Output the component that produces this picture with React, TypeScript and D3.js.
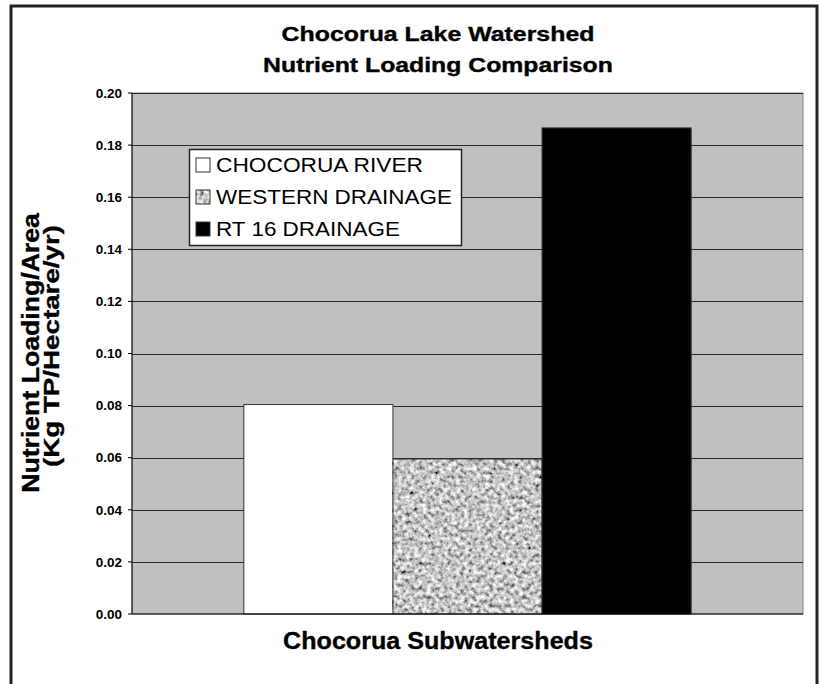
import React, { useLayoutEffect, useRef } from 'react';
import * as d3 from 'd3';

// chart values
const titleLines = ['Chocorua Lake Watershed', 'Nutrient Loading Comparison'];
const categories = ['Chocorua Subwatersheds'];
const seriesNames = ['CHOCORUA RIVER', 'WESTERN DRAINAGE', 'RT 16 DRAINAGE'];
const seriesValues = [0.0804, 0.0595, 0.1866];
const yTicks = [0, 0.02, 0.04, 0.06, 0.08, 0.1, 0.12, 0.14, 0.16, 0.18, 0.2];
const yLabelLines = ['Nutrient Loading/Area', '(Kg TP/Hectare/yr)'];

const W = 820;
const H = 684;
const plot = { left: 132, right: 803, top: 93, bottom: 614 };
const font = '"Liberation Sans", Arial, Helvetica, sans-serif';

// widths of the wide Excel text
const legendTextLen = [207, 236, 184];

// text that is stretched (glyphs too) to a target width, centred on x
const WideText = ({ x, y, rotate = 0, width, size, bold = true, children }) => {
  const ref = useRef(null);
  useLayoutEffect(() => {
    const el = ref.current;
    if (!el) return;
    const natural = el.getComputedTextLength();
    const sx = natural > 0 ? width / natural : 1;
    el.setAttribute('transform', `translate(${x},${y}) rotate(${rotate}) scale(${sx},1)`);
  }, [x, y, rotate, width, children]);
  return (
    <text
      ref={ref}
      transform={`translate(${x},${y}) rotate(${rotate})`}
      textAnchor="middle"
      fontSize={size}
      fontWeight={bold ? 'bold' : 'normal'}
      stroke="#000"
      strokeWidth={0.35}
    >
      {children}
    </text>
  );
};

const App = () => {
  const y = d3.scaleLinear().domain([0, 0.2]).range([plot.bottom, plot.top]);
  const x0 = d3
    .scaleBand()
    .domain(categories)
    .range([plot.left, plot.right])
    .paddingInner(0)
    .paddingOuter(0.25);
  const x1 = d3.scaleBand().domain(seriesNames).range([0, x0.bandwidth()]);

  const fills = ['#ffffff', '#a8a8a8', '#000000'];
  const fmt = d3.format('.2f');

  // granite-ish fill for the western drainage series
  const textured = (key, xx, yy, w, h) => (
    <g key={key}>
      <rect x={xx} y={yy} width={w} height={h} fill="#a8a8a8" filter="url(#granite)" />
      <rect x={xx} y={yy} width={w} height={h} fill="none" stroke="#333" strokeWidth={1} />
    </g>
  );

  return (
    <svg
      width={W}
      height={H}
      style={{ position: 'absolute', left: 0, top: 0, display: 'block' }}
      fontFamily={font}
    >
      <defs>
        <filter id="granite" x="0" y="0" width="100%" height="100%">
          <feTurbulence type="fractalNoise" baseFrequency="0.24" numOctaves="2" seed="7" result="n" />
          <feColorMatrix
            in="n"
            type="matrix"
            values="1.6 0 0 0 -0.24  1.6 0 0 0 -0.24  1.6 0 0 0 -0.24  0 0 0 0 1"
          />
        </filter>
      </defs>

      <rect x={0} y={0} width={W} height={H} fill="#fff" />
      {/* outer frame, runs off the bottom of the page */}
      <rect x={11} y={6} width={806} height={720} fill="#fff" stroke="#222" strokeWidth={3} />

      {/* title */}
      <WideText x={438} y={41} width={313} size={20}>
        {titleLines[0]}
      </WideText>
      <WideText x={438} y={72} width={350} size={20}>
        {titleLines[1]}
      </WideText>

      {/* plot area */}
      <rect
        x={plot.left}
        y={plot.top}
        width={plot.right - plot.left}
        height={plot.bottom - plot.top}
        fill="#c0c0c0"
        stroke="#808080"
        strokeWidth={1}
      />
      {yTicks
        .filter((t) => t > 0)
        .map((t) => (
          <line
            key={'g' + t}
            x1={plot.left}
            x2={plot.right}
            y1={Math.round(y(t)) + 0.5}
            y2={Math.round(y(t)) + 0.5}
            stroke="#2a2a2a"
            strokeWidth={1}
          />
        ))}

      {/* bars */}
      {categories.map((c) => (
        <g key={c} transform={`translate(${x0(c)},0)`}>
          {seriesNames.map((s, i) => {
            const bx = x1(s);
            const by = y(seriesValues[i]);
            const bw = x1.bandwidth();
            const bh = y(0) - by;
            if (i === 1) return textured(s, bx, by, bw, bh);
            return (
              <rect key={s} x={bx} y={by} width={bw} height={bh} fill={fills[i]} stroke="#333" strokeWidth={1} />
            );
          })}
        </g>
      ))}

      {/* axes */}
      <line x1={plot.left} x2={plot.left} y1={plot.top} y2={plot.bottom} stroke="#000" strokeWidth={1} />
      <line x1={plot.left} x2={plot.right} y1={plot.bottom} y2={plot.bottom} stroke="#000" strokeWidth={1.2} />
      {yTicks.map((t) => (
        <g key={'t' + t} transform={`translate(0,${y(t)})`}>
          <line x1={plot.left - 4} x2={plot.left} stroke="#000" strokeWidth={1} />
          <text x={122} dy="0.35em" textAnchor="end" fontSize={13.5} fontWeight="bold">
            {fmt(t)}
          </text>
        </g>
      ))}

      {/* axis titles */}
      <WideText x={438} y={649} width={310} size={23}>
        {categories[0]}
      </WideText>
      <WideText x={39} y={353} rotate={-90} width={280} size={23}>
        {yLabelLines[0]}
      </WideText>
      <WideText x={59} y={346} rotate={-90} width={242} size={23}>
        {yLabelLines[1]}
      </WideText>

      {/* legend */}
      <rect x={189.5} y={149.5} width={272} height={96} fill="#fff" stroke="#222" strokeWidth={1.5} />
      {seriesNames.map((s, i) => {
        const base = 172 + i * 32;
        return (
          <g key={'lg' + s}>
            {i === 1 ? (
              textured('sw' + i, 196, base - 14, 14, 14)
            ) : (
              <rect x={196} y={base - 14} width={14} height={14} fill={fills[i]} stroke="#333" strokeWidth={1} />
            )}
            <text x={216} y={base} fontSize={20} textLength={legendTextLen[i]} lengthAdjust="spacingAndGlyphs">
              {s}
            </text>
          </g>
        );
      })}
    </svg>
  );
};

export default App;
